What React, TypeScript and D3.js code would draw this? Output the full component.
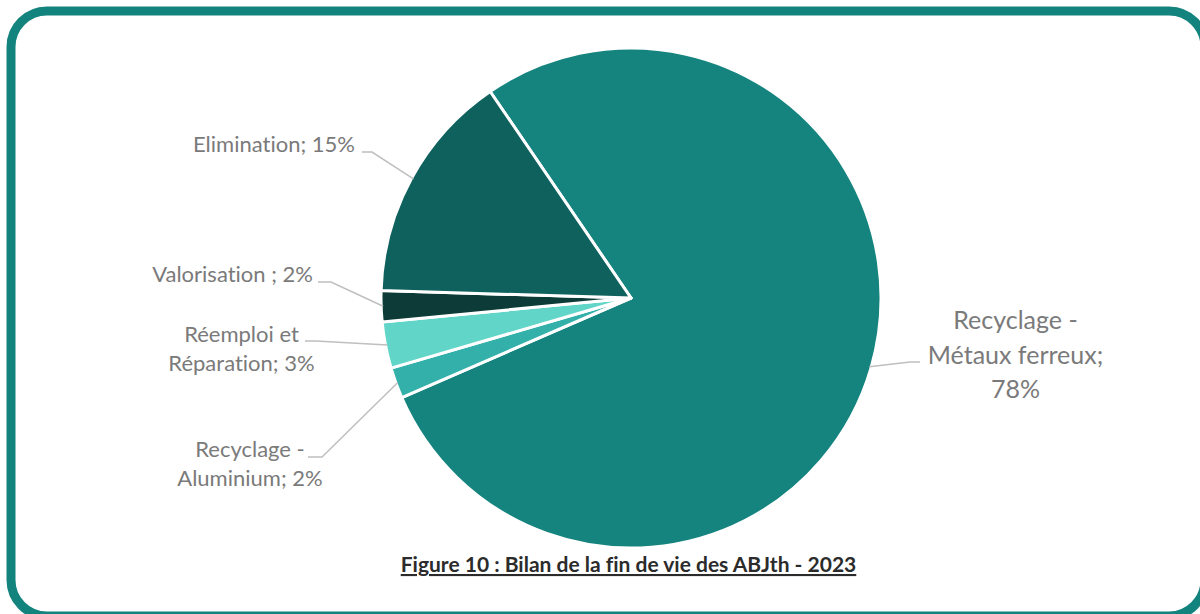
import React from 'react';
import * as d3 from 'd3';

// chart data
const categories = [
  'Recyclage - Métaux ferreux',
  'Recyclage - Aluminium',
  'Réemploi et Réparation',
  'Valorisation',
  'Elimination',
];
const labelLines = [
  ['Recyclage -', 'Métaux ferreux;', '78%'],
  ['Recyclage -', 'Aluminium; 2%'],
  ['Réemploi et', 'Réparation; 3%'],
  ['Valorisation ; 2%'],
  ['Elimination; 15%'],
];
const values = [78, 2, 3, 2, 15];
const colors = ['#15847f', '#33b0aa', '#60d5c8', '#0c3b38', '#0f615e'];
const title = 'Figure 10 : Bilan de la fin de vie des ABJth - 2023';

// label layout (text position, leader elbow)
const labelLayout = [
  { x: 1015.5, y: 329, lh: 34.5, size: 25, anchor: 'middle', elbowX: 910, elbowY: 362, tailX: 920 },
  { x: 250, y: 457, lh: 28.5, size: 22, anchor: 'middle', elbowX: 322, elbowY: 457, tailX: 308 },
  { x: 241.5, y: 342, lh: 29, size: 22, anchor: 'middle', elbowX: 316, elbowY: 341, tailX: 305 },
  { x: 313, y: 282, lh: 29, size: 22, anchor: 'end', elbowX: 331, elbowY: 282, tailX: 318 },
  { x: 355, y: 152, lh: 29, size: 22, anchor: 'end', elbowX: 372, elbowY: 152, tailX: 362 },
];

const width = 1200;
const height = 614;
const cx = 631;
const cy = 298;
const radius = 250;
const noLig = { fontVariantLigatures: 'none' as const, fontFeatureSettings: '"liga" 0, "clig" 0' };

export default function App() {
  const start = (-34.3 * Math.PI) / 180;
  const pie = d3
    .pie<number>()
    .sort(null)
    .startAngle(start)
    .endAngle(start + 2 * Math.PI);
  const arcs = pie(values);
  const arc = d3.arc<d3.PieArcDatum<number>>().innerRadius(0).outerRadius(radius);

  return (
    <svg
      width={width}
      height={height}
      style={{ position: 'absolute', left: 0, top: 0, background: '#fff' }}
    >
      <rect x={11} y={11} width={1194} height={605} rx={36} ry={36} fill="#fff" stroke="#13837e" strokeWidth={9} />
      <g transform={`translate(${cx},${cy})`}>
        {arcs.map((a, i) => (
          <path key={categories[i]} d={arc(a) || ''} fill={colors[i]} stroke="#fff" strokeWidth={3} strokeLinejoin="round" />
        ))}
      </g>
      {arcs.map((a, i) => {
        const L = labelLayout[i];
        const mid = (a.startAngle + a.endAngle) / 2;
        const px = cx + Math.sin(mid) * (radius - 2);
        const py = cy - Math.cos(mid) * (radius - 2);
        const line = d3.line()([
          [L.tailX, L.elbowY],
          [L.elbowX, L.elbowY],
          [px, py],
        ]);
        return (
          <g key={'lab' + i}>
            <path d={line || ''} fill="none" stroke="#bfbfbf" strokeWidth={1.5} />
            <text
              x={L.x}
              y={L.y}
              textAnchor={L.anchor}
              fontFamily="Lato, 'Open Sans', sans-serif"
              fontSize={L.size}
              fill="#7a7a7a"
              style={noLig}
            >
              {labelLines[i].map((t, j) => (
                <tspan key={j} x={L.x} y={L.y + j * L.lh}>
                  {t}
                </tspan>
              ))}
            </text>
          </g>
        );
      })}
      <text
        x={628.5}
        y={572}
        textAnchor="middle"
        fontFamily="Lato, sans-serif"
        fontWeight="bold"
        fontSize={21}
        fill="#2b2b2b"
        textDecoration="underline"
        style={noLig}
      >
        {title}
      </text>
    </svg>
  );
}
